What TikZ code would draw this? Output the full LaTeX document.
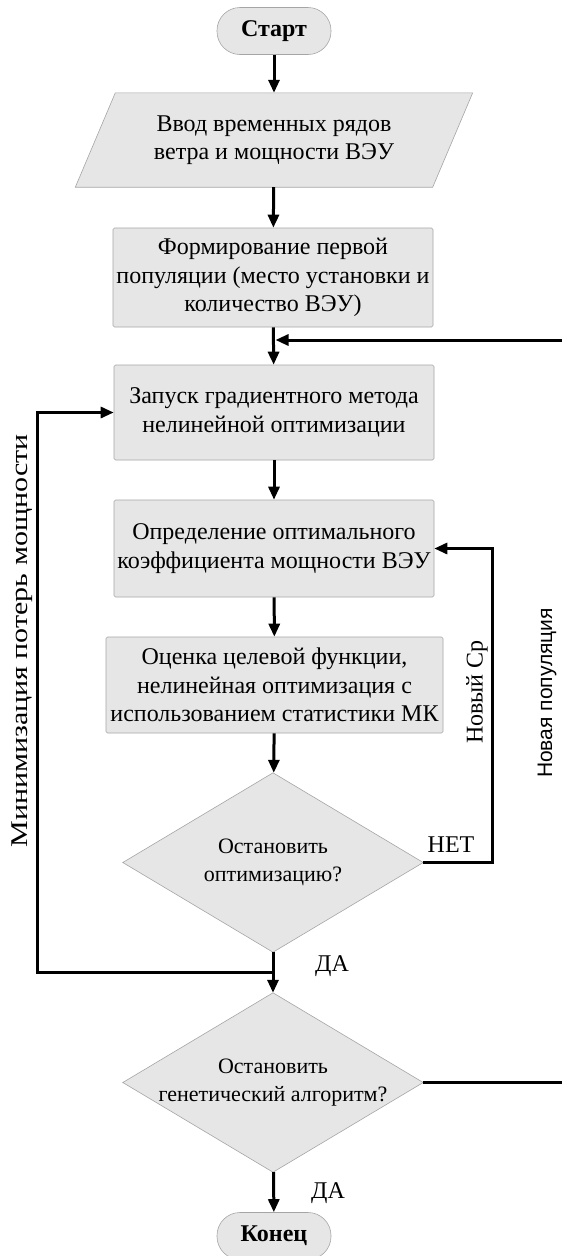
\documentclass[tikz,border=0pt]{standalone}
\usepackage{fontspec}
\setmainfont{Liberation Serif}
\newfontfamily\labelsans{Liberation Sans}
\usetikzlibrary{arrows.meta,backgrounds,calc}
\definecolor{boxfill}{RGB}{230,230,230}
\definecolor{boxline}{RGB}{165,165,165}
\begin{document}
\begin{tikzpicture}[x=1pt,y=-1pt,
  txt/.style={font=\fontsize{24}{28.5}\selectfont, align=center},
  dtxt/.style={font=\fontsize{22}{28}\selectfont, align=center},
  procbox/.style={txt, draw=boxline, fill=boxfill, line width=0.6pt,
    rounded corners=1.5pt, minimum width=320, minimum height=97, inner sep=0pt},
  termbox/.style={draw=boxline, fill=boxfill, line width=0.6pt,
    rounded corners=23pt, minimum width=114, minimum height=47, inner sep=0pt,
    font=\fontsize{24}{28}\selectfont\bfseries},
  holder/.style={inner sep=0pt},
  shapefill/.style={draw=boxline, fill=boxfill, line width=0.6pt},
  flow/.style={line width=3pt, -{Triangle[length=13pt,width=11pt]}},
  link/.style={line width=3pt},
  lbl/.style={font=\fontsize{24}{28}\selectfont}
]
\useasboundingbox (0,0) rectangle (562,1256);

% blocks of the flowchart
\node[termbox] (start) at (274,31) {Старт};
\node[txt, holder, minimum width=357, minimum height=94] (inp) at (274,140)
  {Ввод временных рядов\\ветра и мощности ВЭУ};
\node[procbox, minimum height=99] (b2) at (273,277.5)
  {Формирование первой\\популяции (место установки и\\количество ВЭУ)};
\node[procbox, minimum height=95] (b3) at (274,412.5)
  {Запуск градиентного метода\\нелинейной оптимизации};
\node[procbox] (b4) at (274,548.5)
  {Определение оптимального\\коэффициента мощности ВЭУ};
\node[procbox, minimum width=337, minimum height=96] (b5) at (274.5,685)
  {Оценка целевой функции,\\нелинейная оптимизация с\\использованием статистики МК};
\node[dtxt, holder, minimum width=300, minimum height=179] (d1) at (273,862.5)
  {Остановить\\оптимизацию?};
\node[dtxt, holder, minimum width=300, minimum height=179] (d2) at (273,1082.5)
  {Остановить\\генетический алгоритм?};
\node[termbox] (stop) at (274,1236) {Конец};

% parallelogram and decision diamonds behind their texts
\begin{scope}[on background layer]
  \filldraw[shapefill] ($(inp.north west)+(20,0)$) -- ($(inp.north east)+(20,0)$)
    -- ($(inp.south east)+(-20,0)$) -- ($(inp.south west)+(-20,0)$) -- cycle;
  \filldraw[shapefill] (d1.north) -- (d1.east) -- (d1.south) -- (d1.west) -- cycle;
  \filldraw[shapefill] (d2.north) -- (d2.east) -- (d2.south) -- (d2.west) -- cycle;
\end{scope}

% helper points of the loops
\coordinate (j1) at (274,340);
\coordinate (r1) at (562,340);
\coordinate (j2) at (274,972);
\coordinate (lx) at (37,972);
\coordinate (nx) at (492,0);
\coordinate (r2) at (562,1082.5);

% main flow
\draw[flow] (start) -- (inp);
\draw[flow] (inp) -- (b2);
\draw[flow] (b2) -- (b3);
\draw[flow] (b3) -- (b4);
\draw[flow] (b4) -- (b5);
\draw[flow] (b5) -- (d1);
\draw[flow] (d1) -- (d2);
\draw[flow] (d2) -- (stop);

% loops
\draw[flow, shorten >=1.5pt] (r1) -- (j1);
\draw[link] (d2.east) -- (r2);
\draw[flow] (d1.east) -| (nx |- b4.east) -- (b4.east);
\draw[flow] (j2) -- (lx) |- (b3.west);

% labels
\node[lbl] (net) at (451,845) {НЕТ};
\node[lbl] (da1) at (332,966) {ДА};
\node[lbl] (da2) at (328,1193) {ДА};
\node[lbl, rotate=90] (ncp) at (477,692) {Новый Ср};
\node[font=\labelsans\fontsize{21}{25}\selectfont, rotate=90] (npop) at (547,693) {Новая популяция};
\node[font=\fontsize{24}{28}\selectfont, rotate=90] (minp) at (22,641)
  {\scalebox{1.25}[1]{Минимизация потерь мощности}};
\end{tikzpicture}
\end{document}
